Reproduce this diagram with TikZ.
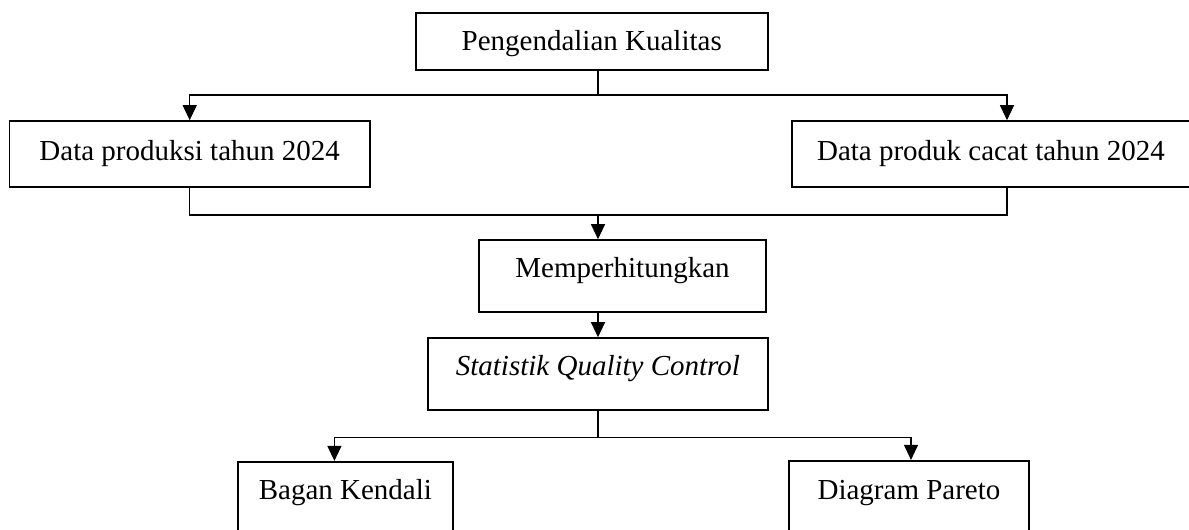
\documentclass[tikz,border=0pt]{standalone}
\usepackage{fontspec}
\setmainfont{Liberation Serif}
\usetikzlibrary{arrows.meta}
\begin{document}
\begin{tikzpicture}
  [x=1pt,y=-1pt,
   box/.style={draw,line width=1.6pt,inner sep=0pt,anchor=base,font=\fontsize{29}{34}\selectfont},
   arr/.style={-{Triangle[length=15pt,width=14pt]},line width=1.1pt},
   ln/.style={line width=1.1pt}]
  \useasboundingbox (0,0) rectangle (1189,530);
  \node[box,minimum width=352pt,text height=37.5pt,text depth=19.7pt] (kual) at (591.7,50.3) {Pengendalian Kualitas};
  \node[box,minimum width=360.7pt,text height=39pt,text depth=27pt] (prod) at (189.7,160) {Data produksi tahun 2024};
  \node[box,minimum width=398pt,text height=39pt,text depth=27pt] (cacat) at (991,160) {Data produk cacat tahun 2024};
  \node[box,minimum width=287pt,text height=37pt,text depth=34.7pt] (hitung) at (622.5,277) {Memperhitungkan};
  \node[box,minimum width=339.7pt,text height=37pt,text depth=35pt] (sqc) at (597.9,375) {\textit{Statistik Quality Control}};
  \node[box,minimum width=215.3pt,text height=37.6pt,text depth=60pt] (bagan) at (345.4,499.3) {Bagan Kendali};
  \node[box,minimum width=240pt,text height=38.3pt,text depth=60pt] (pareto) at (909,499) {Diagram Pareto};

  \coordinate (s1) at (598,95);
  \coordinate (s2) at (598,215);
  \coordinate (s3) at (598,437.7);

  \draw[ln] (kual.south -| s1) -- (s1);
  \draw[arr] (s1) -| (prod.north);
  \draw[arr] (s1) -| ([xshift=16pt]cacat.north);
  \draw[ln] (prod.south) |- (s2) -| ([xshift=16pt]cacat.south);
  \draw[arr] (s2) -- (s2 |- hitung.north);
  \draw[arr] (hitung.south -| s2) -- (sqc.north -| s2);
  \draw[ln] (sqc.south -| s3) -- (s3);
  \draw[arr] (s3) -| ([xshift=-11pt]bagan.north);
  \draw[arr] (s3) -| ([xshift=2pt]pareto.north);
\end{tikzpicture}
\end{document}
